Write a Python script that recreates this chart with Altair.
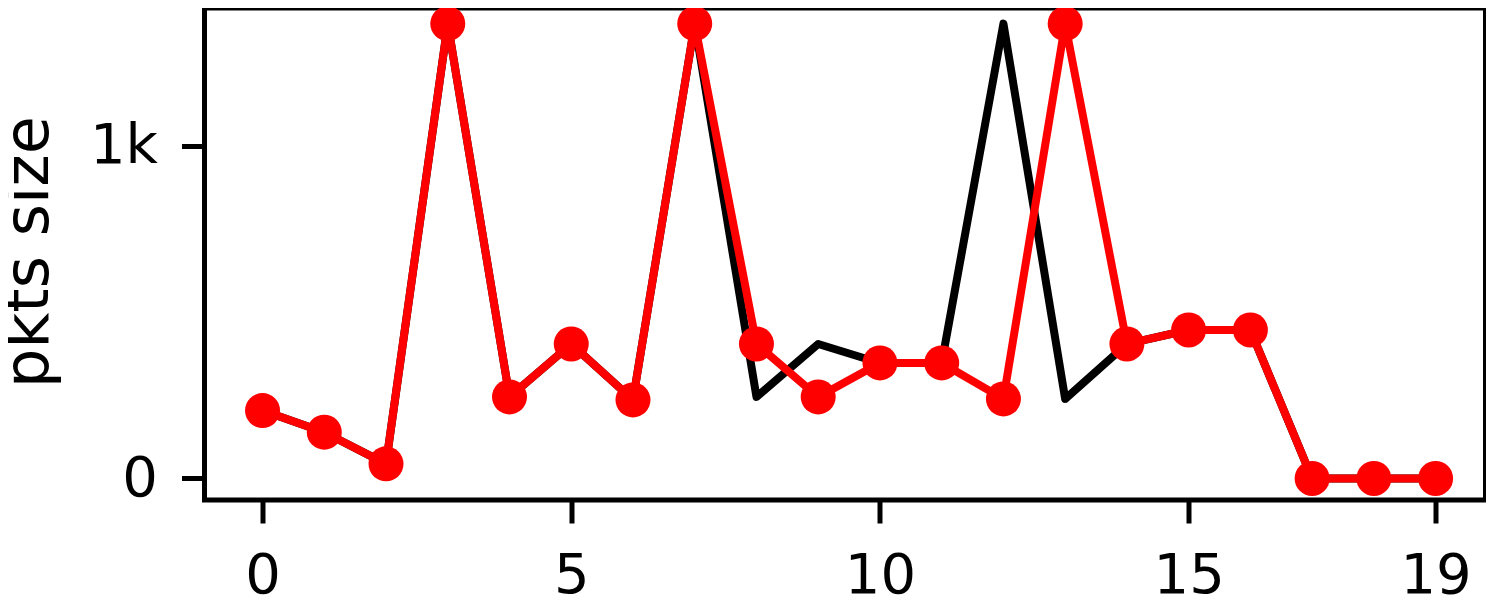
import altair as alt
import pandas as pd

# ---- data ----
steps = list(range(20))
sent_sizes = [204, 139, 44, 1366, 245, 404, 236, 1366, 245, 404,
              347, 347, 1366, 239, 404, 446, 446, 0, 0, 0]          # black line
recv_sizes = [204, 139, 44, 1366, 245, 404, 236, 1366, 404, 245,
              347, 347, 239, 1366, 404, 446, 446, 0, 0, 0]          # red line + markers
x_tick_values = [0, 5, 10, 15, 19]
y_tick_values = [0, 1000]
y_tick_labels = ["0", "1k"]

df = pd.DataFrame({
    "step": steps + steps,
    "size": sent_sizes + recv_sizes,
    "series": ["sent"] * len(steps) + ["recv"] * len(steps),
})

FONT = "DejaVu Sans"

# label expression built from the tick label lists
expr = "''"
for v, lab in reversed(list(zip(y_tick_values, y_tick_labels))):
    expr = f"datum.value === {v} ? '{lab}' : {expr}"

x_enc = alt.X(
    "step:Q",
    scale=alt.Scale(domain=[-0.94, 19.808], nice=False, zero=False),
    axis=alt.Axis(
        values=x_tick_values, title=None, grid=False, domain=False,
        tickSize=23, tickWidth=5, tickColor="black",
        labelFont=FONT, labelFontSize=56, labelColor="black",
        labelPadding=25, labelFlush=False, labelOverlap=False, labelBound=False,
        format="d",
    ),
)
y_enc = alt.Y(
    "size:Q",
    scale=alt.Scale(domain=[-64.6, 1413], nice=False, zero=False),
    axis=alt.Axis(
        values=y_tick_values, labelExpr=expr, grid=False, domain=False,
        tickSize=23, tickWidth=5, tickColor="black",
        labelFont=FONT, labelFontSize=56, labelColor="black",
        labelPadding=24, labelFlush=False, labelOverlap=False, labelBound=False,
        title="pkts size", titleFont=FONT, titleFontSize=62,
        titleFontWeight="normal", titleColor="black",
        titleAngle=270, titleAlign="center", titleBaseline="alphabetic",
        titleX=-157.5, titleY=243.5,
    ),
)

base = alt.Chart(df).encode(x=x_enc, y=y_enc)

black_line = base.transform_filter(alt.datum.series == "sent").mark_line(
    color="black", strokeWidth=8, strokeJoin="round"
)
red_line = base.transform_filter(alt.datum.series == "recv").mark_line(
    color="red", strokeWidth=8, strokeJoin="round"
)
red_pts = base.transform_filter(alt.datum.series == "recv").mark_circle(
    color="red", size=1225, opacity=1
)

chart = (
    alt.layer(black_line, red_line, red_pts)
    .properties(
        width=1281,
        height=492,
        autosize=alt.AutoSizeParams(type="none"),
        padding={"left": 196.5, "top": 0, "right": 0, "bottom": 100},
    )
    .configure_view(stroke="black", strokeWidth=5)
)

chart.save("out.html", embed_options={"renderer": "svg", "actions": False})
